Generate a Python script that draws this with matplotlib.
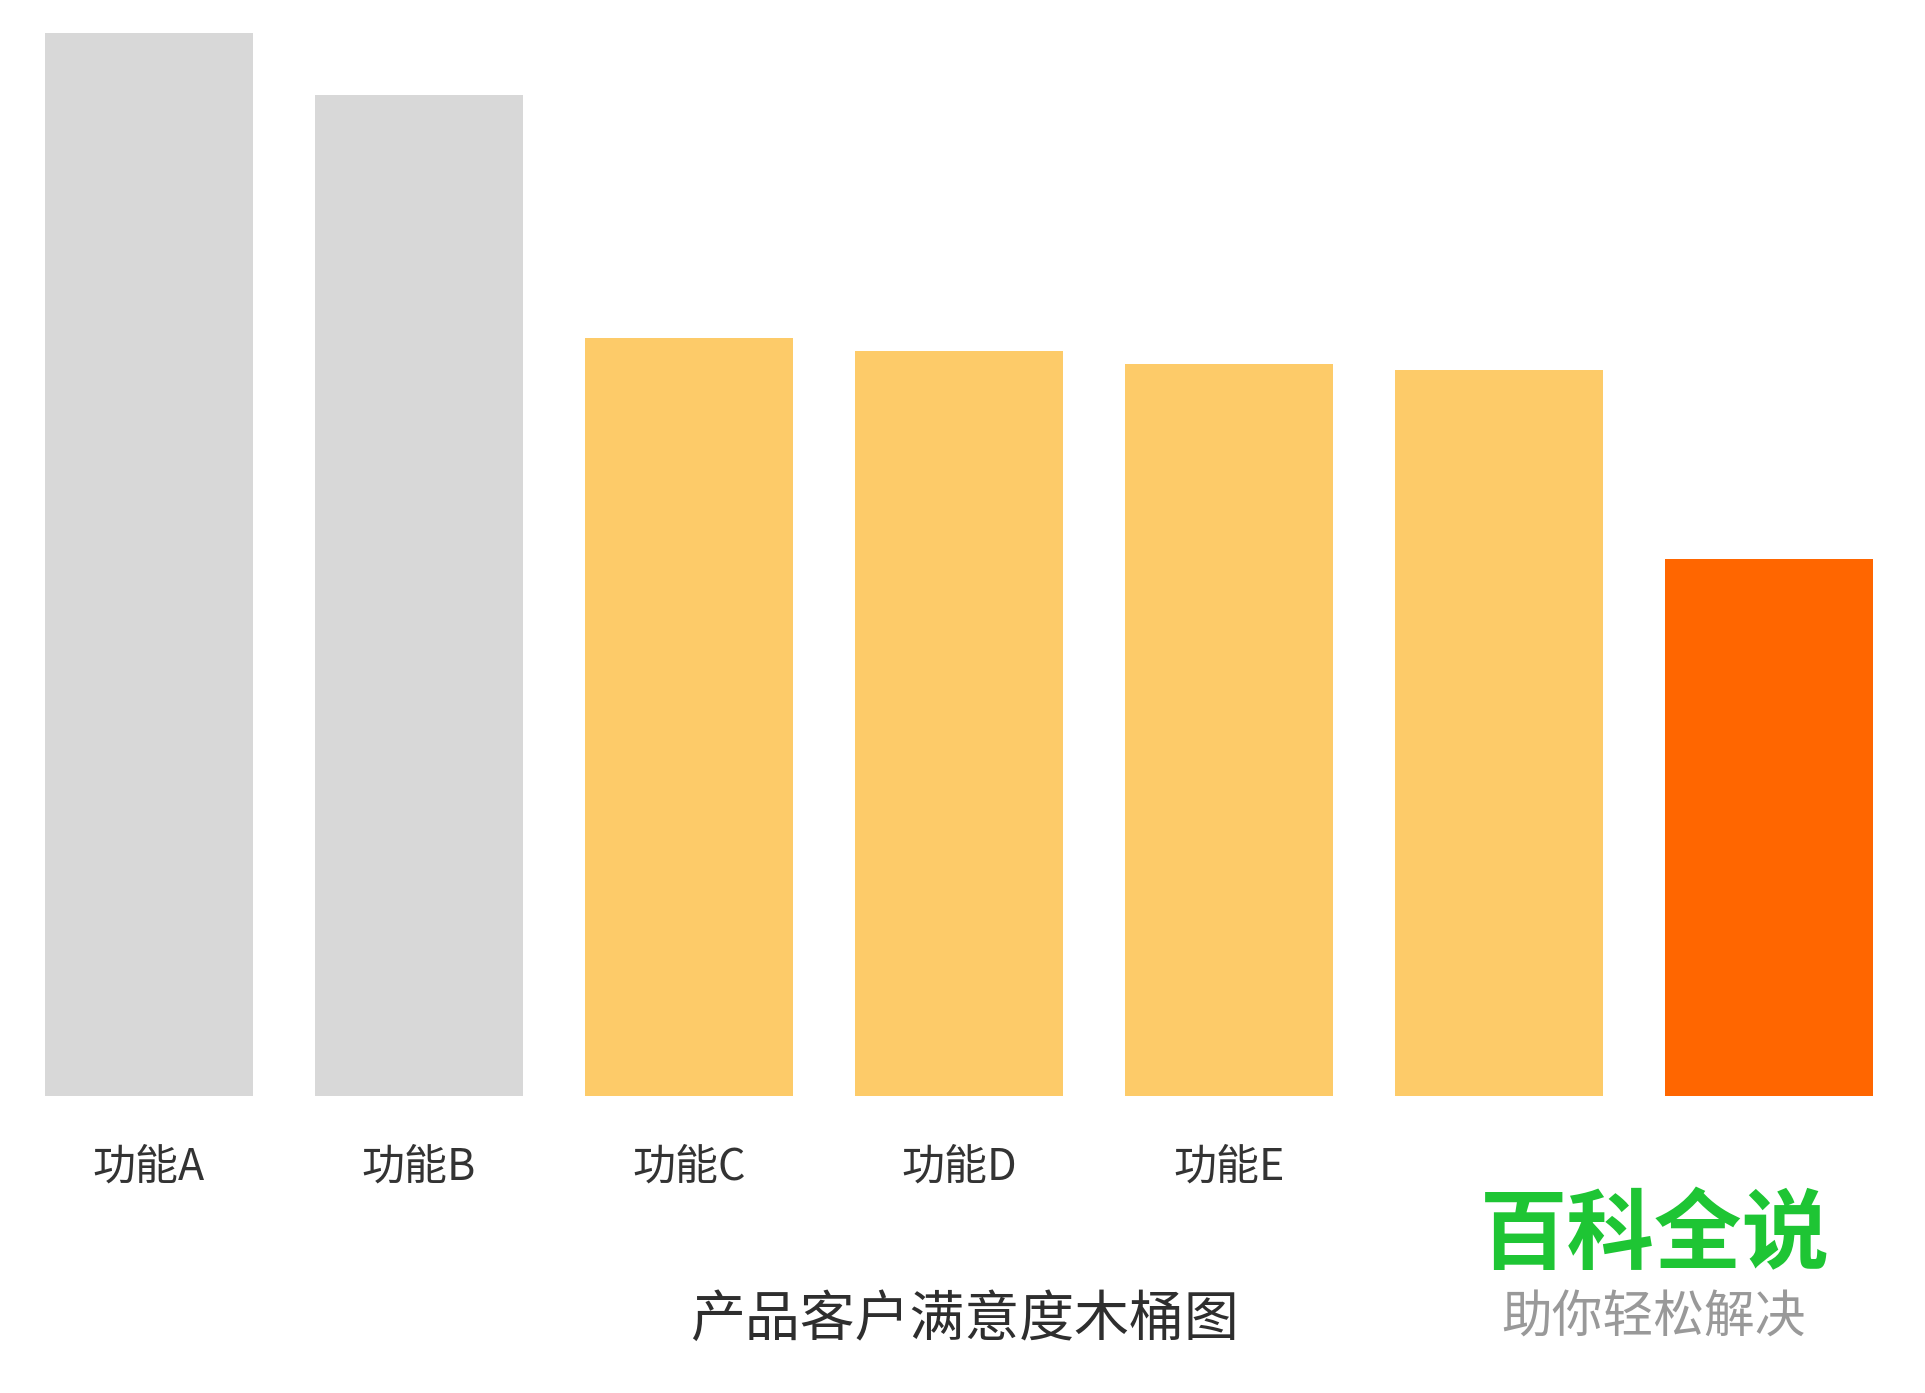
import numpy as np
import matplotlib.pyplot as plt
import matplotlib.transforms as mtransforms

plt.rcParams['font.family'] = ['Noto Sans CJK SC', 'DejaVu Sans']

# 数据
categories = ['功能A', '功能B', '功能C', '功能D', '功能E', '', '']
values = [95, 89.5, 67.7, 66.6, 65.4, 64.9, 48.0]
colors = ['#d8d8d8', '#d8d8d8', '#fdcb69', '#fdcb69', '#fdcb69', '#fdcb69', '#ff6600']
title = '产品客户满意度木桶图'

fig = plt.figure(figsize=(19.25, 13.93), dpi=100)
ax = fig.add_axes([45 / 1925, 1 - 1096 / 1393, (1873 - 45) / 1925, (1096 - 33) / 1393])

x = np.arange(len(categories))
ax.bar(x, values, width=0.77, color=colors)
ax.set_xlim(-0.385, len(categories) - 1 + 0.385)
ax.set_ylim(0, max(values))

for s in ax.spines.values():
    s.set_visible(False)
ax.set_xticks([])
ax.set_yticks([])

# 横轴标签
trans = mtransforms.blended_transform_factory(ax.transData, ax.transAxes)
for xi, lab in zip(x, categories):
    if lab:
        ax.text(xi, -0.067, lab, transform=trans, ha='center', va='center',
                fontsize=31, color='#333333', fontweight='medium')

# 标题
fig.text(964 / 1925, 1 - 1320 / 1393, title, ha='center', va='center',
         fontsize=39.5, color='#2e2e2e', fontweight='medium')

# 水印
fig.text(1655 / 1925, 1 - 1237 / 1393, '百科全说', ha='center', va='center',
         fontsize=63, color='#1ec534', fontweight='bold')
fig.text(1654 / 1925, 1 - 1319 / 1393, '助你轻松解决', ha='center', va='center',
         fontsize=36.5, color='#999999')

fig.savefig('out.png', dpi=100, facecolor='white')
